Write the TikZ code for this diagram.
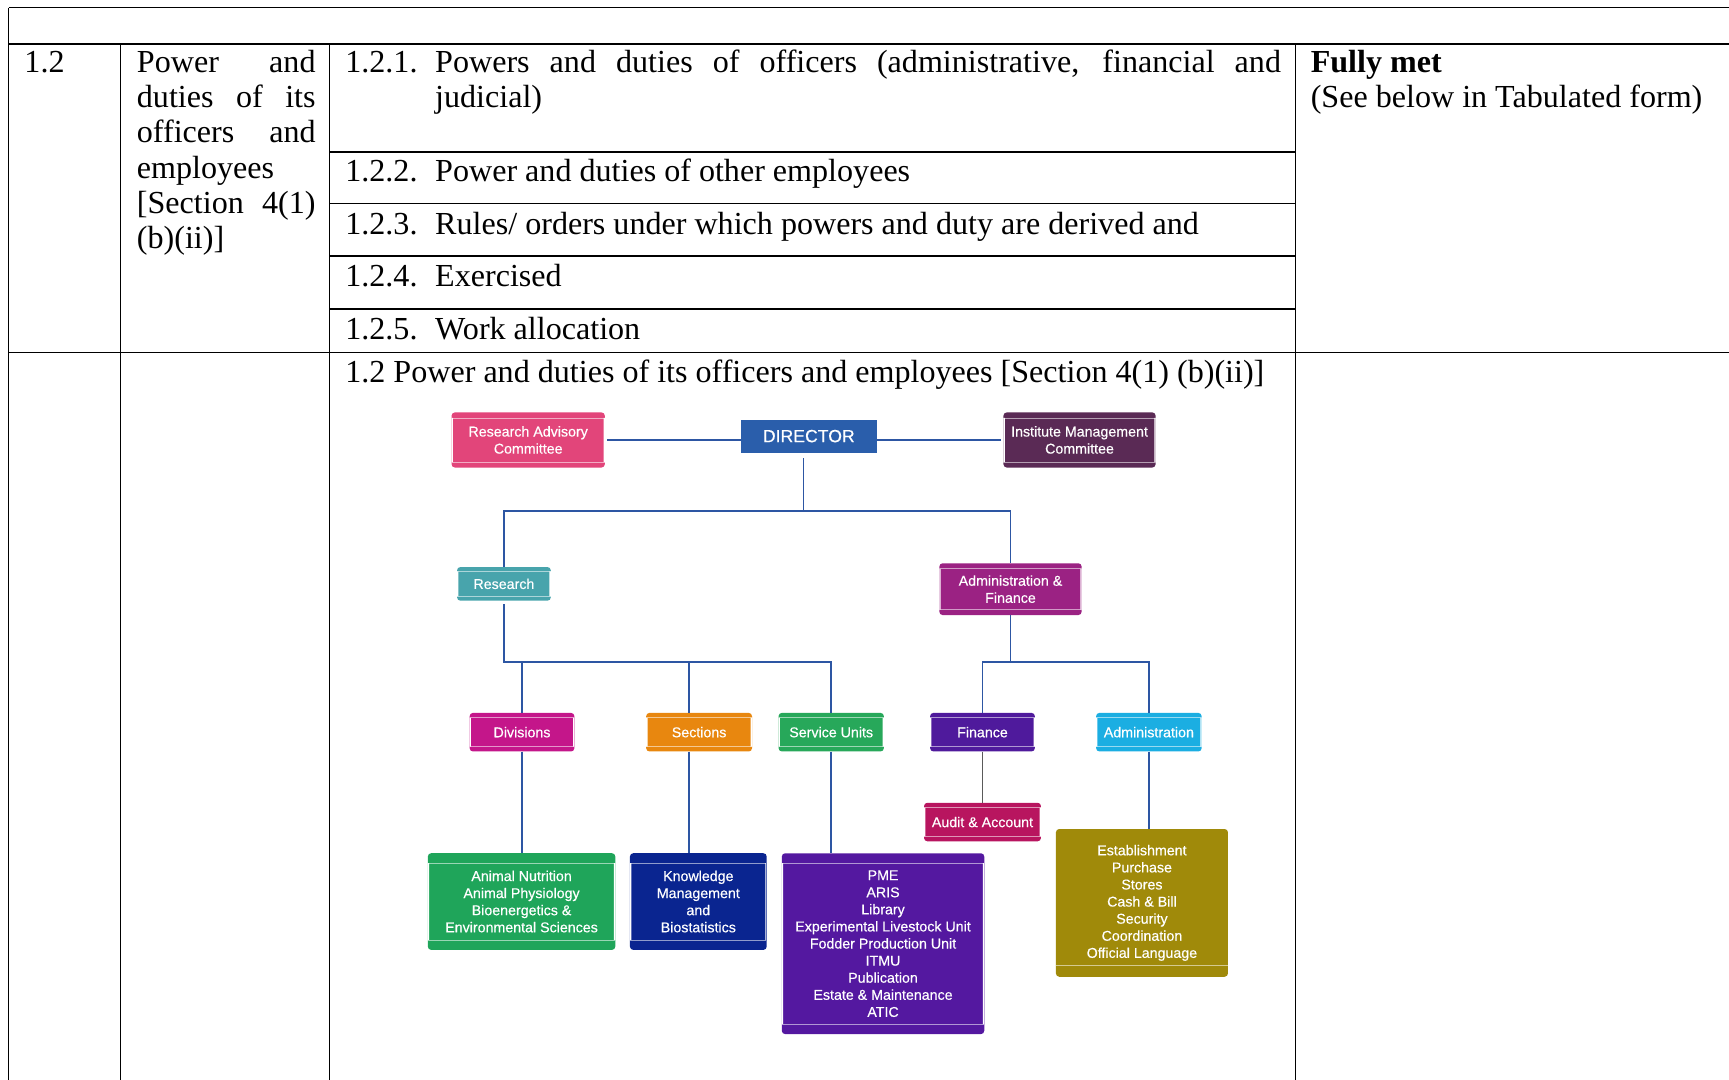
\documentclass[tikz,border=0pt]{standalone}
\usepackage{fontspec}
\setmainfont{Liberation Serif}
\newfontfamily\chartfont[FakeBold=0.4]{Liberation Sans}

\definecolor{linkblue}{HTML}{2D56A3}
\definecolor{audgrey}{HTML}{5A5A5A}
\definecolor{racpink}{HTML}{E2457A}
\definecolor{dirblue}{HTML}{2A5EAB}
\definecolor{imcplum}{HTML}{5A2A55}
\definecolor{resteal}{HTML}{48A4AC}
\definecolor{afmagenta}{HTML}{9B2283}
\definecolor{divpink}{HTML}{C4168A}
\definecolor{secorange}{HTML}{E8870F}
\definecolor{svcgreen}{HTML}{27A85A}
\definecolor{finviolet}{HTML}{4F1A9C}
\definecolor{admcyan}{HTML}{1BAEE2}
\definecolor{audcrimson}{HTML}{B8155F}
\definecolor{anigreen}{HTML}{1FA55A}
\definecolor{kmsnavy}{HTML}{0A2590}
\definecolor{pmepurple}{HTML}{5418A0}
\definecolor{estolive}{HTML}{A08A0A}

\tikzset{
    rule/.style = {
        line width=0.9pt,
        black
    },
    heavy/.style = {
        line width=1.9pt,
        black
    },
    cell/.style = {
        anchor=base west,
        inner sep=0pt,
        font=\fontsize{29.1}{32}\selectfont
    },
    link/.style = {
        line width=1.5pt,
        linkblue
    },
    orgbox/.style 2 args = {
        rounded corners=3pt,
        fill=#1,
        text=white,
        align=center,
        inner sep=0pt,
        font=\chartfont\fontsize{12.9}{15.5}\selectfont,
        path picture={
            \fill[white, sharp corners]
                ([yshift=-#2]path picture bounding box.north west) rectangle
                ([xshift=1.2pt, yshift=#2]path picture bounding box.south west)
                ([yshift=-#2]path picture bounding box.north east) rectangle
                ([xshift=-1.2pt, yshift=#2]path picture bounding box.south east);
            \draw[white, opacity=.55, line width=.7pt, sharp corners]
                ([yshift=-#2]path picture bounding box.north west) --
                ([yshift=-#2]path picture bounding box.north east)
                ([yshift=#2]path picture bounding box.south west) --
                ([yshift=#2]path picture bounding box.south east);
        }
    },
    footbox/.style = {
        rounded corners=3pt,
        fill=#1,
        text=white,
        align=center,
        inner sep=0pt,
        font=\chartfont\fontsize{12.9}{15.5}\selectfont,
        path picture={
            \draw[white, opacity=.55, line width=.7pt, sharp corners]
                ([yshift=10pt]path picture bounding box.south west) --
                ([yshift=10pt]path picture bounding box.south east);
        }
    }
}

\begin{document}
\begin{tikzpicture}[x=1pt, y=-1pt]
    \useasboundingbox (0,0) rectangle (1568,979);

    % Draw table rules
    \draw[rule] (8,7) -- (1568,7);
    \draw[heavy] (8,40) -- (1568,40);
    \draw[rule] (8,320) -- (1568,320);
    \draw[rule] (8,7) -- (8,979);
    \draw[rule] (109.5,40) -- (109.5,979);
    \draw[rule] (298.5,40) -- (298.5,979);
    \draw[rule] (1175,40) -- (1175,979);
    \draw[heavy] (298.5,138) -- (1175,138);
    \draw[rule] (298.5,184.4) -- (1175,184.4);
    \draw[heavy] (298.5,232) -- (1175,232);
    \draw[heavy] (298.5,280.5) -- (1175,280.5);

    % Draw table text
    \node[cell] (secno) at (22,65.8) {1.2};
    \node[cell] (topic1) at (124,65.8) {\makebox[162pt][s]{Power and}};
    \node[cell] (topic2) at (124,97.7) {\makebox[162pt][s]{duties of its}};
    \node[cell] (topic3) at (124,129.6) {\makebox[162pt][s]{officers and}};
    \node[cell] (topic4) at (124,161.5) {employees};
    \node[cell] (topic5) at (124,193.4) {\makebox[162pt][s]{[Section 4(1)}};
    \node[cell] (topic6) at (124,225.3) {(b)(ii)]};

    \node[cell] (itemno1) at (313,65.8) {1.2.1.};
    \node[cell] (item1a) at (394.5,65.8) {\makebox[767pt][s]{Powers and duties of officers (administrative, financial and}};
    \node[cell] (item1b) at (394.5,97.7) {judicial)};
    \node[cell] (itemno2) at (313,164.8) {1.2.2.};
    \node[cell] (item2) at (394.5,164.8) {Power and duties of other employees};
    \node[cell] (itemno3) at (313,212.5) {1.2.3.};
    \node[cell] (item3) at (394.5,212.5) {Rules/ orders under which powers and duty are derived and};
    \node[cell] (itemno4) at (313,260) {1.2.4.};
    \node[cell] (item4) at (394.5,260) {Exercised};
    \node[cell] (itemno5) at (313,307.7) {1.2.5.};
    \node[cell] (item5) at (394.5,307.7) {Work allocation};
    \node[cell] (caption) at (313,347) {1.2 Power and duties of its officers and employees [Section 4(1) (b)(ii)]};

    \node[cell] (status) at (1188.5,65.8) {\textbf{Fully met}};
    \node[cell] (statusnote) at (1188.5,97.7) {(See below in Tabulated form)};

    % Draw chart boxes
    \node[orgbox={racpink}{5pt}, minimum width=139pt, minimum height=50pt] (rac) at (479,399) {Research Advisory\\Committee};
    \node[fill=dirblue, text=white, inner sep=0pt, minimum width=123pt, minimum height=30pt,
          font=\chartfont\fontsize{16}{18}\selectfont] (dir) at (733.5,395.5) {DIRECTOR};
    \node[orgbox={imcplum}{5pt}, minimum width=138pt, minimum height=50pt] (imc) at (979,399) {Institute Management\\Committee};

    \node[orgbox={resteal}{4pt}, minimum width=85pt, minimum height=30.5pt] (res) at (457,529.5) {Research};
    \node[orgbox={afmagenta}{5pt}, minimum width=129pt, minimum height=47pt] (af) at (916.4,534.3) {Administration \&\\Finance};

    \node[orgbox={divpink}{4.5pt}, minimum width=95pt, minimum height=35pt] (div) at (473.4,664) {Divisions};
    \node[orgbox={secorange}{4.5pt}, minimum width=96pt, minimum height=35pt] (sec) at (634,664) {Sections};
    \node[orgbox={svcgreen}{4.5pt}, minimum width=95.5pt, minimum height=35pt] (svc) at (753.8,664) {Service Units};
    \node[orgbox={finviolet}{4.5pt}, minimum width=95pt, minimum height=35pt] (fin) at (891,664) {Finance};
    \node[orgbox={admcyan}{4.5pt}, minimum width=95.7pt, minimum height=35pt] (adm) at (1041.9,664) {Administration};
    \node[orgbox={audcrimson}{4.5pt}, minimum width=106pt, minimum height=35pt] (aud) at (891,745.5) {Audit \& Account};

    \node[orgbox={anigreen}{9pt}, minimum width=170pt, minimum height=87.7pt] (ani) at (473,817.6)
        {Animal Nutrition\\Animal Physiology\\Bioenergetics \&\\Environmental Sciences};
    \node[orgbox={kmsnavy}{9pt}, minimum width=124pt, minimum height=87.7pt] (kms) at (633.3,817.6)
        {Knowledge\\Management\\and\\Biostatistics};
    \node[orgbox={pmepurple}{9pt}, minimum width=183.6pt, minimum height=164pt] (pme) at (800.8,855.8)
        {PME\\ARIS\\Library\\Experimental Livestock Unit\\Fodder Production Unit\\ITMU\\Publication\\Estate \& Maintenance\\ATIC};
    \node[footbox=estolive, minimum width=156pt, minimum height=134pt] (est) at (1035.6,818.8)
        {Establishment\\Purchase\\Stores\\Cash \& Bill\\Security\\Coordination\\Official Language};

    % Draw chart links
    \coordinate (jtop) at (728.8,463.5);
    \coordinate (jres) at (457,600.5);
    \coordinate (jadm) at (916.4,600.5);
    \coordinate (secline) at (625,600.5);

    \draw[link, shorten <=2pt] (rac) -- (rac -| dir.west);
    \draw[link, shorten >=2pt] (dir.east |- imc) -- (imc);
    \draw[link, shorten <=5pt] (jtop |- dir.south) -- (jtop);
    \draw[link] (res) |- (jtop) -| (af);
    \draw[link, shorten <=3pt] (res) |- (jres) -| (svc);
    \draw[link] (div |- jres) -- (div);
    \draw[link] (secline) -- (secline |- sec.north);
    \draw[link] (af) |- (jadm) -| (adm);
    \draw[link] (fin) |- (jadm);

    \draw[link] (div) -- (div |- ani.north);
    \draw[link] (secline |- sec.south) -- (secline |- kms.north);
    \draw[link] (svc) -- (svc |- pme.north);
    \draw[link, audgrey] (fin) -- (aud);
    \draw[link] (adm) -- (adm |- est.north);
\end{tikzpicture}
\end{document}
